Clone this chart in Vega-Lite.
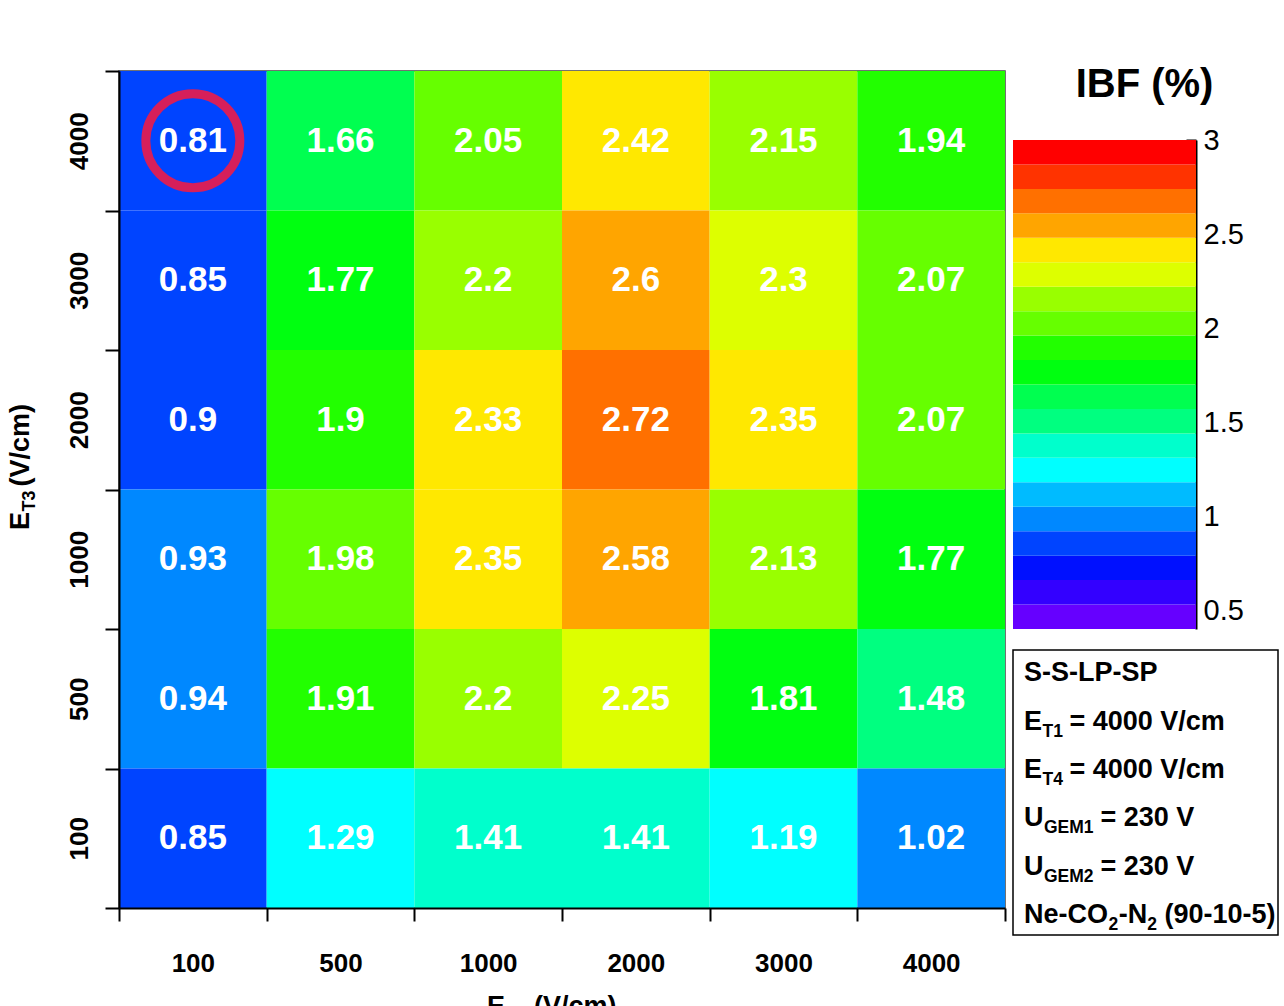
{
  "$schema": "https://vega.github.io/schema/vega-lite/v6.json",
  "padding": {"left": 0, "top": 65, "right": 0, "bottom": 0},
  "background": "white",
  "config": {"view": {"stroke": null}, "font": "Liberation Sans"},
  "datasets": {
    "cells": [
      {"e2": 100, "e3": 4000, "ibf": 0.81}, {"e2": 500, "e3": 4000, "ibf": 1.66}, {"e2": 1000, "e3": 4000, "ibf": 2.05}, {"e2": 2000, "e3": 4000, "ibf": 2.42}, {"e2": 3000, "e3": 4000, "ibf": 2.15}, {"e2": 4000, "e3": 4000, "ibf": 1.94},
      {"e2": 100, "e3": 3000, "ibf": 0.85}, {"e2": 500, "e3": 3000, "ibf": 1.77}, {"e2": 1000, "e3": 3000, "ibf": 2.2}, {"e2": 2000, "e3": 3000, "ibf": 2.6}, {"e2": 3000, "e3": 3000, "ibf": 2.3}, {"e2": 4000, "e3": 3000, "ibf": 2.07},
      {"e2": 100, "e3": 2000, "ibf": 0.9}, {"e2": 500, "e3": 2000, "ibf": 1.9}, {"e2": 1000, "e3": 2000, "ibf": 2.33}, {"e2": 2000, "e3": 2000, "ibf": 2.72}, {"e2": 3000, "e3": 2000, "ibf": 2.35}, {"e2": 4000, "e3": 2000, "ibf": 2.07},
      {"e2": 100, "e3": 1000, "ibf": 0.93}, {"e2": 500, "e3": 1000, "ibf": 1.98}, {"e2": 1000, "e3": 1000, "ibf": 2.35}, {"e2": 2000, "e3": 1000, "ibf": 2.58}, {"e2": 3000, "e3": 1000, "ibf": 2.13}, {"e2": 4000, "e3": 1000, "ibf": 1.77},
      {"e2": 100, "e3": 500, "ibf": 0.94}, {"e2": 500, "e3": 500, "ibf": 1.91}, {"e2": 1000, "e3": 500, "ibf": 2.2}, {"e2": 2000, "e3": 500, "ibf": 2.25}, {"e2": 3000, "e3": 500, "ibf": 1.81}, {"e2": 4000, "e3": 500, "ibf": 1.48},
      {"e2": 100, "e3": 100, "ibf": 0.85}, {"e2": 500, "e3": 100, "ibf": 1.29}, {"e2": 1000, "e3": 100, "ibf": 1.41}, {"e2": 2000, "e3": 100, "ibf": 1.41}, {"e2": 3000, "e3": 100, "ibf": 1.19}, {"e2": 4000, "e3": 100, "ibf": 1.02}
    ],
    "bands": [
      {"lo": 0.4, "hi": 0.53}, {"lo": 0.53, "hi": 0.66}, {"lo": 0.66, "hi": 0.79}, {"lo": 0.79, "hi": 0.92}, {"lo": 0.92, "hi": 1.05},
      {"lo": 1.05, "hi": 1.18}, {"lo": 1.18, "hi": 1.31}, {"lo": 1.31, "hi": 1.44}, {"lo": 1.44, "hi": 1.57}, {"lo": 1.57, "hi": 1.7},
      {"lo": 1.7, "hi": 1.83}, {"lo": 1.83, "hi": 1.96}, {"lo": 1.96, "hi": 2.09}, {"lo": 2.09, "hi": 2.22}, {"lo": 2.22, "hi": 2.35},
      {"lo": 2.35, "hi": 2.48}, {"lo": 2.48, "hi": 2.61}, {"lo": 2.61, "hi": 2.74}, {"lo": 2.74, "hi": 2.87}, {"lo": 2.87, "hi": 3.0}
    ],
    "marked": [{"e2": 100, "e3": 4000}],
    "ytitle": [{"seg": "E", "t": "E"}, {"seg": "sub", "t": "T3"}, {"seg": "rest", "t": "(V/cm)"}],
    "xtitle": [{"seg": "E", "t": "E"}, {"seg": "sub", "t": "T2"}, {"seg": "rest", "t": "(V/cm)"}],
    "ibf": [{"t": "IBF (%)"}],
    "box": [
      {"line": 1, "seg": "a", "t": "S-S-LP-SP"},
      {"line": 2, "seg": "a", "t": "E"}, {"line": 2, "seg": "esub", "t": "T1"}, {"line": 2, "seg": "erest", "t": "= 4000 V/cm"},
      {"line": 3, "seg": "a", "t": "E"}, {"line": 3, "seg": "esub", "t": "T4"}, {"line": 3, "seg": "erest", "t": "= 4000 V/cm"},
      {"line": 4, "seg": "a", "t": "U"}, {"line": 4, "seg": "usub", "t": "GEM1"}, {"line": 4, "seg": "urest", "t": "= 230 V"},
      {"line": 5, "seg": "a", "t": "U"}, {"line": 5, "seg": "usub", "t": "GEM2"}, {"line": 5, "seg": "urest", "t": "= 230 V"},
      {"line": 6, "seg": "a", "t": "Ne-CO"}, {"line": 6, "seg": "cosub", "t": "2"}, {"line": 6, "seg": "n", "t": "-N"}, {"line": 6, "seg": "nsub", "t": "2"}, {"line": 6, "seg": "mix", "t": "(90-10-5)"}
    ]
  },
  "resolve": {"scale": {"color": "independent"}},
  "bounds": "full",
  "spacing": 5,
  "hconcat": [
    {
      "bounds": "flush",
      "spacing": 77,
      "hconcat": [
        {
          "width": 42,
          "height": 837,
          "title": {"text": " ", "fontSize": 6, "offset": 0, "frame": "group"},
          "data": {"name": "ytitle"},
          "layer": [
            {"transform": [{"filter": "datum.seg === 'E'"}], "mark": {"type": "text", "angle": 270, "align": "left", "baseline": "alphabetic", "fontSize": 27, "fontWeight": "bold", "color": "black", "dx": -40.5, "dy": 8}, "encoding": {"text": {"field": "t"}}},
            {"transform": [{"filter": "datum.seg === 'sub'"}], "mark": {"type": "text", "angle": 270, "align": "left", "baseline": "alphabetic", "fontSize": 18, "fontWeight": "bold", "color": "black", "dx": -22, "dy": 14}, "encoding": {"text": {"field": "t"}}},
            {"transform": [{"filter": "datum.seg === 'rest'"}], "mark": {"type": "text", "angle": 270, "align": "left", "baseline": "alphabetic", "fontSize": 27, "fontWeight": "bold", "color": "black", "dx": 3, "dy": 8}, "encoding": {"text": {"field": "t"}}}
          ]
        },
        {
          "bounds": "flush",
          "spacing": 72,
          "vconcat": [
            {
              "width": 886,
              "height": 837,
              "view": {"stroke": "#444444", "strokeWidth": 1.5},
              "data": {"name": "cells"},
              "encoding": {
                "x": {
                  "field": "e2", "type": "ordinal", "sort": [100, 500, 1000, 2000, 3000, 4000],
                  "scale": {"paddingInner": 0, "paddingOuter": 0},
                  "axis": {"title": null, "labelAngle": 0, "labelFontSize": 26, "labelFontWeight": "bold", "labelColor": "black", "labelBaseline": "alphabetic", "labelPadding": 50, "tickSize": 13, "tickWidth": 2, "tickColor": "black", "tickBand": "extent", "domainColor": "black", "domainWidth": 2, "grid": false}
                },
                "y": {
                  "field": "e3", "type": "ordinal", "sort": [4000, 3000, 2000, 1000, 500, 100],
                  "scale": {"paddingInner": 0, "paddingOuter": 0},
                  "axis": {"title": null, "labelAngle": 270, "labelAlign": "center", "labelBaseline": "alphabetic", "labelFontSize": 26, "labelFontWeight": "bold", "labelColor": "black", "labelPadding": 18, "tickSize": 14, "tickWidth": 2, "tickColor": "black", "tickBand": "extent", "domainColor": "black", "domainWidth": 2, "grid": false}
                }
              },
              "layer": [
                {
                  "mark": {"type": "rect"},
                  "encoding": {
                    "color": {
                      "field": "ibf", "type": "quantitative",
                      "scale": {
                        "type": "threshold",
                        "domain": [0.548, 0.676, 0.803, 0.93, 1.057, 1.185, 1.312, 1.439, 1.567, 1.694, 1.821, 1.948, 2.075, 2.203, 2.33, 2.457, 2.65, 2.75, 2.875],
                        "range": ["#6600FF", "#3300FF", "#0010FF", "#0044FF", "#0088FF", "#00BBFF", "#00FFFF", "#00FFCC", "#00FF80", "#00FF50", "#00FF10", "#22FF00", "#66FF00", "#99FF00", "#DDFF00", "#FFE800", "#FFA500", "#FF7000", "#FF3300", "#FF0000"]
                      },
                      "legend": null
                    }
                  }
                },
                {
                  "mark": {"type": "text", "fontSize": 35, "fontWeight": "bold", "color": "white", "baseline": "middle"},
                  "encoding": {"text": {"field": "ibf", "type": "quantitative", "format": "~g"}}
                },
                {
                  "data": {"name": "marked"},
                  "mark": {"type": "point", "shape": "circle", "filled": false, "stroke": "#D61F5A", "strokeWidth": 9, "size": 8836, "opacity": 1}
                }
              ]
            },
            {
              "width": 886,
              "height": 26,
              "data": {"name": "xtitle"},
              "layer": [
                {"transform": [{"filter": "datum.seg === 'E'"}], "mark": {"type": "text", "clip": true, "align": "left", "baseline": "alphabetic", "fontSize": 27, "fontWeight": "bold", "color": "black", "dx": -75, "dy": 22.3}, "encoding": {"text": {"field": "t"}}},
                {"transform": [{"filter": "datum.seg === 'sub'"}], "mark": {"type": "text", "clip": true, "align": "left", "baseline": "alphabetic", "fontSize": 18, "fontWeight": "bold", "color": "black", "dx": -56.5, "dy": 28.3}, "encoding": {"text": {"field": "t"}}},
                {"transform": [{"filter": "datum.seg === 'rest'"}], "mark": {"type": "text", "clip": true, "align": "left", "baseline": "alphabetic", "fontSize": 27, "fontWeight": "bold", "color": "black", "dx": -28, "dy": 22.3}, "encoding": {"text": {"field": "t"}}}
              ]
            }
          ]
        }
      ]
    },
    {
      "bounds": "flush",
      "spacing": 21,
      "vconcat": [
        {
          "width": 183,
          "height": 48,
          "data": {"name": "ibf"},
          "mark": {"type": "text", "fontSize": 40, "fontWeight": "bold", "color": "black", "align": "center", "baseline": "alphabetic", "dx": 40, "dy": 2},
          "encoding": {"text": {"field": "t"}}
        },
        {
          "width": 183,
          "height": 489,
          "data": {"name": "bands"},
          "mark": {"type": "rect"},
          "encoding": {
            "y": {
              "field": "lo", "type": "quantitative",
              "scale": {"domain": [0.4, 3], "nice": false, "zero": false},
              "axis": {"orient": "right", "values": [0.5, 1, 1.5, 2, 2.5, 3], "format": "~g", "title": null, "grid": false, "labelFontSize": 29, "labelFontWeight": "normal", "labelColor": "black", "labelBaseline": "middle", "labelPadding": 17, "labelFlush": false, "labelOverlap": false, "tickSize": -10, "tickColor": "black", "tickWidth": 2, "domainColor": "black", "domainWidth": 2}
            },
            "y2": {"field": "hi"},
            "color": {
              "field": "lo", "type": "quantitative",
              "scale": {
                "type": "threshold",
                "domain": [0.53, 0.66, 0.79, 0.92, 1.05, 1.18, 1.31, 1.44, 1.57, 1.7, 1.83, 1.96, 2.09, 2.22, 2.35, 2.48, 2.61, 2.74, 2.87],
                "range": ["#6600FF", "#3300FF", "#0010FF", "#0044FF", "#0088FF", "#00BBFF", "#00FFFF", "#00FFCC", "#00FF80", "#00FF50", "#00FF10", "#22FF00", "#66FF00", "#99FF00", "#DDFF00", "#FFE800", "#FFA500", "#FF7000", "#FF3300", "#FF0000"]
              },
              "legend": null
            }
          }
        },
        {
          "width": 265,
          "height": 285,
          "view": {"stroke": "black", "strokeWidth": 1.5, "fill": "white"},
          "data": {"name": "box"},
          "encoding": {
            "y": {"field": "line", "type": "ordinal", "scale": {"type": "point", "padding": 0.45}, "axis": null}
          },
          "layer": [
            {"transform": [{"filter": "datum.seg === 'a'"}], "mark": {"type": "text", "align": "left", "baseline": "alphabetic", "fontSize": 27, "fontWeight": "bold", "color": "black", "dx": -121.5, "dy": 9.7}, "encoding": {"text": {"field": "t"}}},
            {"transform": [{"filter": "datum.seg === 'esub'"}], "mark": {"type": "text", "align": "left", "baseline": "alphabetic", "fontSize": 17.5, "fontWeight": "bold", "color": "black", "dx": -103, "dy": 16.7}, "encoding": {"text": {"field": "t"}}},
            {"transform": [{"filter": "datum.seg === 'erest'"}], "mark": {"type": "text", "align": "left", "baseline": "alphabetic", "fontSize": 27, "fontWeight": "bold", "color": "black", "dx": -76, "dy": 9.7}, "encoding": {"text": {"field": "t"}}},
            {"transform": [{"filter": "datum.seg === 'usub'"}], "mark": {"type": "text", "align": "left", "baseline": "alphabetic", "fontSize": 17.5, "fontWeight": "bold", "color": "black", "dx": -101.5, "dy": 16.7}, "encoding": {"text": {"field": "t"}}},
            {"transform": [{"filter": "datum.seg === 'urest'"}], "mark": {"type": "text", "align": "left", "baseline": "alphabetic", "fontSize": 27, "fontWeight": "bold", "color": "black", "dx": -45, "dy": 9.7}, "encoding": {"text": {"field": "t"}}},
            {"transform": [{"filter": "datum.seg === 'cosub'"}], "mark": {"type": "text", "align": "left", "baseline": "alphabetic", "fontSize": 17.5, "fontWeight": "bold", "color": "black", "dx": -37, "dy": 16.7}, "encoding": {"text": {"field": "t"}}},
            {"transform": [{"filter": "datum.seg === 'n'"}], "mark": {"type": "text", "align": "left", "baseline": "alphabetic", "fontSize": 27, "fontWeight": "bold", "color": "black", "dx": -26.8, "dy": 9.7}, "encoding": {"text": {"field": "t"}}},
            {"transform": [{"filter": "datum.seg === 'nsub'"}], "mark": {"type": "text", "align": "left", "baseline": "alphabetic", "fontSize": 17.5, "fontWeight": "bold", "color": "black", "dx": 1.7, "dy": 16.7}, "encoding": {"text": {"field": "t"}}},
            {"transform": [{"filter": "datum.seg === 'mix'"}], "mark": {"type": "text", "align": "left", "baseline": "alphabetic", "fontSize": 27, "fontWeight": "bold", "color": "black", "dx": 18.9, "dy": 9.7}, "encoding": {"text": {"field": "t"}}}
          ]
        }
      ]
    }
  ]
}
